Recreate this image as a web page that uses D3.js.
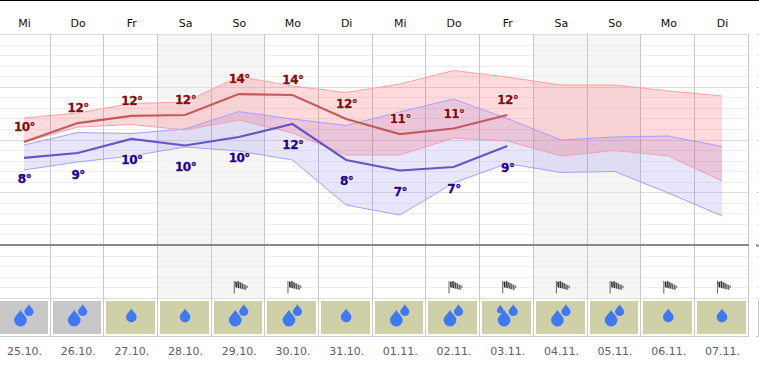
<!DOCTYPE html>
<html><head><meta charset="utf-8">
<script src="https://cdn.jsdelivr.net/npm/d3@7"></script>
<style>
html,body{margin:0;padding:0;background:#fff;overflow:hidden}
svg{display:block}
text{font-family:"DejaVu Sans",sans-serif}
</style></head><body>
<svg id="c" width="759" height="367"></svg>
<script>
const weekdays=["Mi","Do","Fr","Sa","So","Mo","Di","Mi","Do","Fr","Sa","So","Mo","Di"];
const dates=["25.10.","26.10.","27.10.","28.10.","29.10.","30.10.","31.10.","01.11.","02.11.","03.11.","04.11.","05.11.","06.11.","07.11."];
const weekend=[3,4,10,11];
const maxHigh=[12.04,12.51,13.41,13.55,15.97,15.07,14.45,15.26,16.54,15.92,15.17,15.17,14.6,14.12];
const maxLow=[9.76,11.18,11.42,10.9,11.85,10.62,8.53,8.53,10.14,9.86,8.44,8.96,8.44,6.07];
const maxMean=[9.76,11.56,12.23,12.32,14.31,14.22,11.94,10.52,11.04,12.32];
const minHigh=[9.48,10.66,10.57,11.0,12.65,11.94,11.33,12.61,13.84,11.99,9.95,10.24,10.33,9.34];
const minLow=[7.11,7.87,8.44,9.29,8.91,8.06,3.79,2.84,5.88,7.73,6.87,6.97,4.93,2.75];
const minMean=[8.25,8.72,10.05,9.43,10.24,11.47,8.06,7.06,7.39,9.38];
const maxLabels=[10,12,12,12,14,14,12,11,11,12];
const minLabels=[8,9,10,10,10,12,8,7,7,9];
const drops=[2,2,1,1,2,2,1,2,2,3,2,2,1,1];
const grayTile=[1,1,0,0,0,0,0,0,0,0,0,0,0,0];
const windy=[0,0,0,0,1,1,0,0,1,1,1,1,1,1];
const tempTicks=d3.range(-5,21);

const svg=d3.select("#c");
const x=d3.scaleLinear().domain([0,13]).range([24,722]);
const y=d3.scaleLinear().domain([0,20]).range([245,34]);
const edge=i=>Math.round(x(i+0.5)-0.2)-0.5;
const idx=d3.range(14);
const yTop=y(20),yZero=y(0),yBot=y(-5);

// page rules
svg.append("rect").attr("width",759).attr("height",1).attr("fill","#000");

// weekend shading
svg.selectAll(".we").data(weekend).join("rect")
 .attr("x",d=>edge(d-1)).attr("width",d=>edge(d)-edge(d-1))
 .attr("y",yTop).attr("height",yBot-yTop).attr("fill","#f5f5f5");

// horizontal grid
svg.selectAll(".g").data(tempTicks).join("line")
 .attr("x1",0).attr("x2",749).attr("y1",d=>Math.round(y(d))+.5).attr("y2",d=>Math.round(y(d))+.5)
 .attr("stroke",d=>d%5===0?"#dedede":"#efefef");
svg.selectAll(".gs").data(tempTicks).join("line")
 .attr("x1",756).attr("x2",759).attr("y1",d=>Math.round(y(d))+.5).attr("y2",d=>Math.round(y(d))+.5)
 .attr("stroke",d=>d===0?"#888":d%5===0?"#dedede":"#efefef").attr("stroke-width",d=>d===0?2:1);

// vertical grid
svg.selectAll(".v").data(idx).join("line")
 .attr("x1",d=>edge(d)).attr("x2",d=>edge(d)).attr("y1",yTop).attr("y2",336).attr("stroke","#cacaca");
svg.append("line").attr("x1",758.5).attr("x2",758.5).attr("y1",yBot+2).attr("y2",336).attr("stroke","#cacaca");
svg.append("line").attr("x1",0).attr("x2",749).attr("y1",336.5).attr("y2",336.5).attr("stroke","#c6cbe4");
svg.append("line").attr("x1",756).attr("x2",759).attr("y1",336.5).attr("y2",336.5).attr("stroke","#c6cbe4");

// bands
const band=(hi,lo)=>d3.area().x((d,i)=>x(i)).y0((d,i)=>y(lo[i])).y1(d=>y(d))(hi);
const edgeLine=d3.line().x((d,i)=>x(i)).y(d=>y(d));
svg.append("path").attr("d",band(minHigh,minLow)).attr("fill","rgba(92,80,240,0.14)");
svg.append("path").attr("d",band(maxHigh,maxLow)).attr("fill","rgba(250,70,80,0.2)");
[[minHigh,"#a79fff"],[minLow,"#a79fff"],[maxHigh,"#ffa3a3"],[maxLow,"#f0a0b0"]].forEach(([a,c])=>
 svg.append("path").attr("d",edgeLine(a)).attr("fill","none").attr("stroke",c).attr("stroke-width",1));

// zero line
svg.append("line").attr("x1",0).attr("x2",749).attr("y1",yZero).attr("y2",yZero).attr("stroke","#888").attr("stroke-width",2);

// mean lines
svg.append("path").attr("d",edgeLine(minMean)).attr("fill","none").attr("stroke","#6556c4").attr("stroke-width",2.2);
svg.append("path").attr("d",edgeLine(maxMean)).attr("fill","none").attr("stroke","#c25c5c").attr("stroke-width",2.2);

// temp labels
function labels(vals,means,color,dy){
 const place=s=>s.attr("x",(d,i)=>x(i)+0.5).attr("y",(d,i)=>y(means[i])+dy)
  .attr("text-anchor","middle").attr("font-size",12).attr("font-weight","bold")
  .attr("letter-spacing",-0.5).text(d=>d+"°");
 place(svg.selectAll(null).data(vals).join("text"))
  .attr("fill","#fff").attr("stroke","#fff").attr("stroke-width",2).attr("stroke-opacity",.7);
 place(svg.selectAll(null).data(vals).join("text"))
  .attr("fill",color).attr("stroke",color).attr("stroke-width",.35);
}
labels(maxLabels,maxMean,"#8c0a0a",-11);
labels(minLabels,minMean,"#26008c",25.5);

// header & dates
svg.selectAll(".wd").data(weekdays).join("text").attr("x",(d,i)=>x(i)+0.5).attr("y",27)
 .attr("text-anchor","middle").attr("font-size",11).attr("fill","#111").text(d=>d);
svg.selectAll(".dt").data(dates).join("text").attr("x",(d,i)=>x(i)+0.5).attr("y",355)
 .attr("text-anchor","middle").attr("font-size",11).attr("fill","#606060").text(d=>d);

// tiles
svg.selectAll(".t").data(idx).join("rect")
 .attr("x",i=>i===0?0:edge(i-1)+2.5).attr("width",i=>i===0?edge(0)-2.5:edge(i)-edge(i-1)-5)
 .attr("y",301).attr("height",33).attr("fill",i=>grayTile[i]?"#c8c8c8":"#cfcfa8");

// drops
const dropPath=r=>`M0,${-r*1.6}C${r*.3},${-r*1} ${r},${-r*.55} ${r},0A${r},${r} 0 1 1 ${-r},0C${-r},${-r*.55} ${-r*.3},${-r*1} 0,${-r*1.6}Z`;
const dropSets={1:[[0,317,5.3]],2:[[-3.5,320,6.4],[5,311.5,4.6]],3:[[-3.2,320,6.4],[6,311.5,4.6],[-7,310,3.3]]};
idx.forEach(i=>{
 dropSets[drops[i]].forEach(([dx,cy,r])=>{
  svg.append("path").attr("transform",`translate(${x(i)+dx},${cy})`).attr("d",dropPath(r)).attr("fill","#3f78f5");
 });
 if(windy[i]){
  const g=svg.append("g").attr("transform",`translate(${x(i)-4.5},280.5)`);
  g.append("line").attr("x1",0).attr("x2",0).attr("y1",0.5).attr("y2",13).attr("stroke","#707070").attr("stroke-width",1.1);
  g.append("path").attr("d","M0.5,1.5L4,0.5L13.5,5.5L11.5,9.5L0.5,6.5Z").attr("fill","#bbb");
  [[1.6,1.2,7,"#222"],[3.8,.8,7.6,"#333"],[6,2,8,"#444"],[8.2,3,8.7,"#555"],[10.6,4.4,9.3,"#666"],[12.6,5.2,7.5,"#888"]].forEach(([a,b,c,k])=>
   g.append("line").attr("x1",a).attr("x2",a+.5).attr("y1",b).attr("y2",c).attr("stroke",k).attr("stroke-width",1.3));
 }
});
</script></body></html>
